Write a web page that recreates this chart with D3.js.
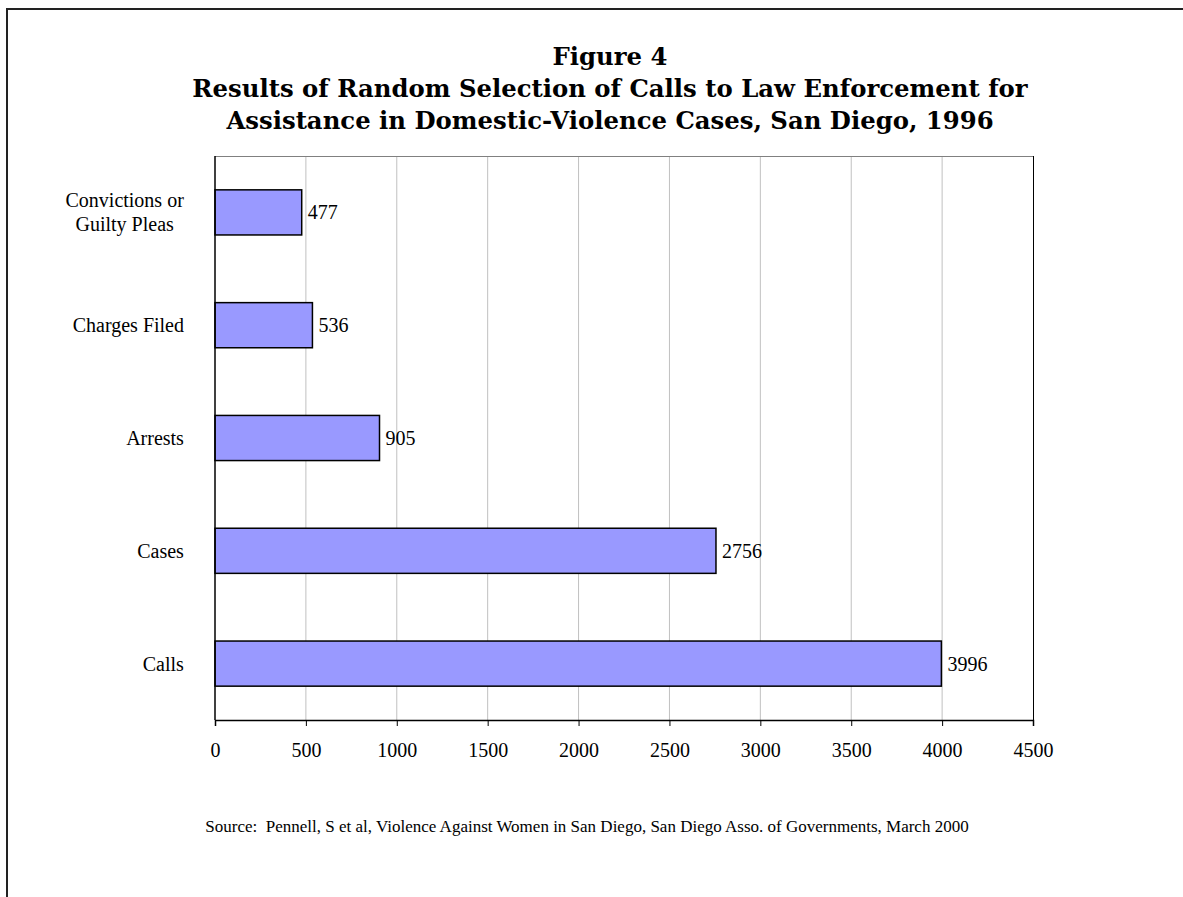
<!DOCTYPE html>
<html>
<head>
<meta charset="utf-8">
<script src="https://cdn.jsdelivr.net/npm/d3@7"></script>
<style>
  body { margin: 0; background: #fff; }
  svg { display: block; }
</style>
</head>
<body>
<div id="chart"></div>
<script>

// data, top to bottom
let categories = [["Convictions or", "Guilty Pleas"], ["Charges Filed"], ["Arrests"], ["Cases"], ["Calls"]]
let values = [477, 536, 905, 2756, 3996]
let xTicks = [0, 500, 1000, 1500, 2000, 2500, 3000, 3500, 4000, 4500]

let titleLines = ["Figure 4",
    "Results of Random Selection of Calls to Law Enforcement for",
    "Assistance in Domestic-Violence Cases, San Diego, 1996"]
let sourceText = "Source:  Pennell, S et al, Violence Against Women in San Diego, San Diego Asso. of Governments, March 2000"

// plot box
let plot = {left: 215, top: 156, right: 1033, bottom: 720}

let svg = d3.select("#chart").append("svg")
    .attr("width", 1183)
    .attr("height", 897)

// outer frame (runs off the right and bottom edges)
svg.append("rect")
    .attr("x", 7).attr("y", 9)
    .attr("width", 1250).attr("height", 1000)
    .attr("fill", "none")
    .attr("stroke", "#222")
    .attr("stroke-width", 2)

let x = d3.scaleLinear().domain([0, 4500]).range([plot.left, plot.right])

let keys = categories.map(c => c.join(" "))
let y = d3.scaleBand().domain(keys).range([plot.top, plot.bottom])
    .paddingInner(0.6).paddingOuter(0.3)

// gridlines
svg.append("g").selectAll("line").data(xTicks.slice(1, -1)).enter()
    .append("line")
    .attr("x1", d => x(d)).attr("x2", d => x(d))
    .attr("y1", plot.top).attr("y2", plot.bottom)
    .attr("stroke", "#c0c0c0")
    .attr("stroke-width", 1)

// plot border: grey top, black right
svg.append("line")
    .attr("x1", plot.left).attr("x2", plot.right)
    .attr("y1", plot.top + 0.5).attr("y2", plot.top + 0.5)
    .attr("stroke", "#808080")
svg.append("line")
    .attr("x1", plot.right + 0.5).attr("x2", plot.right + 0.5)
    .attr("y1", plot.top).attr("y2", plot.bottom)
    .attr("stroke", "#000")

// bars
svg.append("g").selectAll("rect").data(values).enter()
    .append("rect")
    .attr("x", x(0))
    .attr("y", (d, i) => y(keys[i]))
    .attr("width", d => x(d) - x(0))
    .attr("height", y.bandwidth())
    .attr("fill", "#9999ff")
    .attr("stroke", "#000")
    .attr("stroke-width", 1.5)

// value labels
svg.append("g").selectAll("text").data(values).enter()
    .append("text")
    .attr("x", d => x(d) + 6)
    .attr("y", (d, i) => y(keys[i]) + y.bandwidth() / 2)
    .attr("dy", "0.35em")
    .attr("font-family", "Liberation Serif, Times New Roman, serif")
    .attr("font-size", 20)
    .text(d => d)

// x axis
let xAxis = svg.append("g")
    .attr("transform", "translate(0," + plot.bottom + ")")
    .call(d3.axisBottom(x).tickValues(xTicks).tickSize(6).tickPadding(17).tickFormat(d3.format("d")))
xAxis.select(".domain").attr("stroke", "#000").attr("stroke-width", 1.5)
xAxis.selectAll(".tick line").attr("stroke", "#000")
xAxis.selectAll("text")
    .attr("font-family", "Liberation Serif, Times New Roman, serif")
    .attr("font-size", 20)
    .attr("fill", "#000")

// y axis line
svg.append("line")
    .attr("x1", plot.left).attr("x2", plot.left)
    .attr("y1", plot.top).attr("y2", plot.bottom)
    .attr("stroke", "#000")
    .attr("stroke-width", 1.5)

// category labels, right aligned block, lines centred within it
let catG = svg.append("g")
    .attr("font-family", "Liberation Serif, Times New Roman, serif")
    .attr("font-size", 20)
categories.forEach(function (lines, i) {
    let t = catG.append("text").attr("text-anchor", "middle")
    let lineH = 24
    let cy = y(keys[i]) + y.bandwidth() / 2
    lines.forEach(function (line, j) {
        t.append("tspan")
            .attr("x", 0)
            .attr("y", cy + (j - (lines.length - 1) / 2) * lineH)
            .attr("dy", "0.35em")
            .text(line)
    })
    let w = t.node().getBBox().width
    t.selectAll("tspan").attr("x", 184 - w / 2)
})

// title
let title = svg.append("g")
    .attr("font-family", "DejaVu Serif, serif")
    .attr("font-weight", "bold")
    .attr("text-anchor", "middle")
let probe = title.append("text").attr("font-size", 20).text(titleLines[1])
let titleSize = 20 * 836 / probe.node().getComputedTextLength()
probe.remove()
titleLines.forEach(function (line, i) {
    title.append("text")
        .attr("x", 610)
        .attr("y", 65 + i * 32)
        .attr("font-size", titleSize)
        .text(line)
})

// source note
svg.append("text")
    .attr("x", 587)
    .attr("y", 832)
    .attr("text-anchor", "middle")
    .attr("font-family", "Liberation Serif, Times New Roman, serif")
    .attr("font-size", 17)
    .style("white-space", "pre")
    .text(sourceText)

</script>
</body>
</html>
